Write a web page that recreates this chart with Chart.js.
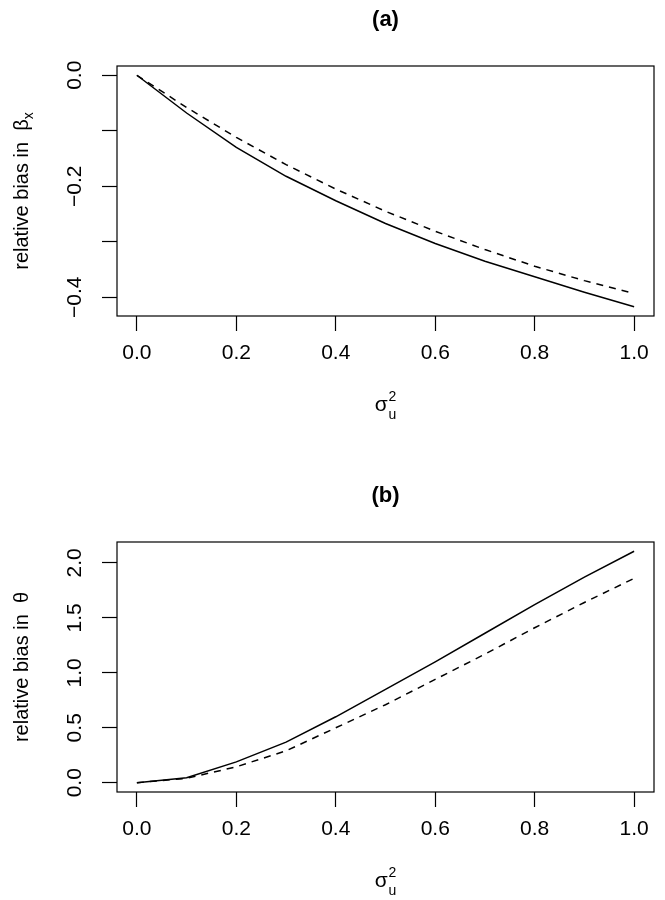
<!DOCTYPE html>
<html>
<head>
<meta charset="utf-8">
<script src="https://cdn.jsdelivr.net/npm/chart.js@4.4.1/dist/chart.umd.min.js"></script>
<style>
  body { margin: 0; background: #fff; }
  #wrap { position: relative; width: 665px; height: 900px; background: #fff; }
  canvas { position: absolute; left: 0; }
</style>
</head>
<body>
<div id="wrap">
  <canvas id="chartA" width="665" height="476" style="top:0"></canvas>
  <canvas id="chartB" width="665" height="424" style="top:476px"></canvas>
</div>
<script>
'use strict';

/*********** DATA ***********/
var sigmaU2 = [0, 0.1, 0.2, 0.3, 0.4, 0.5, 0.6, 0.7, 0.8, 0.9, 1.0];
// panel (a): relative bias in beta_x
var betaSolid = [0, -0.068, -0.130, -0.182, -0.226, -0.267, -0.303, -0.335, -0.363, -0.391, -0.417];
var betaDashed = [0, -0.058, -0.112, -0.161, -0.205, -0.245, -0.281, -0.314, -0.344, -0.370, -0.393];
// panel (b): relative bias in theta
var thetaSolid = [0, 0.045, 0.19, 0.37, 0.60, 0.85, 1.10, 1.36, 1.62, 1.87, 2.106];
var thetaDashed = [0, 0.04, 0.145, 0.29, 0.50, 0.71, 0.94, 1.17, 1.41, 1.64, 1.86];

var xTicks = [0, 0.2, 0.4, 0.6, 0.8, 1.0];
var xTickLabels = ['0.0', '0.2', '0.4', '0.6', '0.8', '1.0'];
var yTicksA = [-0.4, -0.3, -0.2, -0.1, 0];
var yTickLabelsA = ['\u22120.4', '', '\u22120.2', '', '0.0'];
var yTicksB = [0, 0.5, 1.0, 1.5, 2.0];
var yTickLabelsB = ['0.0', '0.5', '1.0', '1.5', '2.0'];

/*********** SETUP ***********/
var family = '"Liberation Sans", Arial, Helvetica, sans-serif';
Chart.defaults.font.family = family;
Chart.defaults.color = '#000';

// box round the plot area plus the axis titles with sub/superscripts
var mathLabels = {
  id: 'mathLabels',
  afterDraw: function(chart, args, opts) {
    var ctx = chart.ctx;
    var area = chart.chartArea;
    ctx.save();
    ctx.strokeStyle = '#000';
    ctx.lineWidth = 1.2;
    ctx.strokeRect(area.left, area.top, area.right - area.left, area.bottom - area.top);
    ctx.fillStyle = '#000';
    ctx.textBaseline = 'alphabetic';
    ctx.textAlign = 'left';

    // x title: sigma with 2 above and u below
    var cx = (area.left + area.right) / 2;
    ctx.font = '21px ' + family;
    var ws = ctx.measureText('\u03c3').width;
    ctx.font = '14px ' + family;
    var wScript = Math.max(ctx.measureText('2').width, ctx.measureText('u').width);
    var x0 = cx - (ws + wScript + 1) / 2;
    ctx.font = '21px ' + family;
    ctx.fillText('\u03c3', x0, area.bottom + 95);
    ctx.font = '14px ' + family;
    ctx.fillText('2', x0 + ws + 1, area.bottom + 85);
    ctx.fillText('u', x0 + ws + 1, area.bottom + 103);

    // y title, rotated
    var cy = (area.top + area.bottom) / 2;
    ctx.translate(28, cy);
    ctx.rotate(-Math.PI / 2);
    ctx.font = '20px ' + family;
    var wMain = ctx.measureText(opts.text).width;
    var wSub = 0;
    if (opts.sub) {
      ctx.font = '14px ' + family;
      wSub = ctx.measureText(opts.sub).width;
    }
    var start = -(wMain + wSub) / 2;
    ctx.font = '20px ' + family;
    ctx.fillText(opts.text, start, 0);
    if (opts.sub) {
      ctx.font = '14px ' + family;
      ctx.fillText(opts.sub, start + wMain, 5);
    }
    ctx.restore();
  }
};

function toPoints(xs, ys) {
  var pts = [];
  for (var i = 0; i < xs.length; i++) {
    pts.push({x: xs[i], y: ys[i]});
  }
  return pts;
}

// R style axis range: data range stretched by 4% on each side
function rRange(a, b) {
  var all = a.concat(b);
  var lo = Math.min.apply(null, all);
  var hi = Math.max.apply(null, all);
  var d = (hi - lo) * 0.04;
  return [lo - d, hi + d];
}

function makeChart(canvasId, title, solid, dashed, yTicks, yLabels, yTitle, ySub, yPad, xHeight) {
  var xr = rRange(sigmaU2, sigmaU2);
  var yr = rRange(solid, dashed);
  var ctx = document.getElementById(canvasId).getContext('2d');
  return new Chart(ctx, {
    type: 'line',
    data: {
      datasets: [{
        data: toPoints(sigmaU2, solid),
        borderColor: '#000',
        borderWidth: 1.5,
        pointRadius: 0,
        tension: 0
      }, {
        data: toPoints(sigmaU2, dashed),
        borderColor: '#000',
        borderWidth: 1.5,
        borderDash: [7, 6],
        pointRadius: 0,
        tension: 0
      }]
    },
    options: {
      responsive: false,
      animation: false,
      layout: { padding: { left: 0, right: 11, top: 0, bottom: 0 } },
      plugins: {
        legend: { display: false },
        tooltip: { enabled: false },
        title: {
          display: true,
          text: title,
          fullSize: false,
          font: { size: 22, weight: 'bold' },
          padding: { top: 7, bottom: 32.6 }
        },
        mathLabels: { text: yTitle, sub: ySub }
      },
      scales: {
        x: {
          type: 'linear',
          min: xr[0],
          max: xr[1],
          afterBuildTicks: function(scale) {
            scale.ticks = xTicks.map(function(v) { return {value: v}; });
          },
          afterFit: function(scale) { scale.height = xHeight; },
          border: { display: false },
          grid: { drawOnChartArea: false, tickLength: 15, tickWidth: 1.2, tickColor: '#000' },
          ticks: {
            autoSkip: false,
            maxRotation: 0,
            padding: 10,
            font: { size: 21 },
            callback: function(value, index) { return xTickLabels[index]; }
          }
        },
        y: {
          type: 'linear',
          min: yr[0],
          max: yr[1],
          afterBuildTicks: function(scale) {
            scale.ticks = yTicks.map(function(v) { return {value: v}; });
          },
          afterFit: function(scale) { scale.width = 117; },
          border: { display: false },
          grid: { drawOnChartArea: false, tickLength: 15, tickWidth: 1.2, tickColor: '#000' },
          ticks: {
            autoSkip: false,
            minRotation: 90,
            maxRotation: 90,
            crossAlign: 'center',
            padding: yPad,
            font: { size: 21 },
            callback: function(value, index) { return yLabels[index]; }
          }
        }
      }
    },
    plugins: [mathLabels]
  });
}

makeChart('chartA', '(a)', betaSolid, betaDashed, yTicksA, yTickLabelsA,
  'relative bias in  \u03b2', 'x', 6, 160);
makeChart('chartB', '(b)', thetaSolid, thetaDashed, yTicksB, yTickLabelsB,
  'relative bias in  \u03b8', '', 12, 108);
</script>
</body>
</html>
